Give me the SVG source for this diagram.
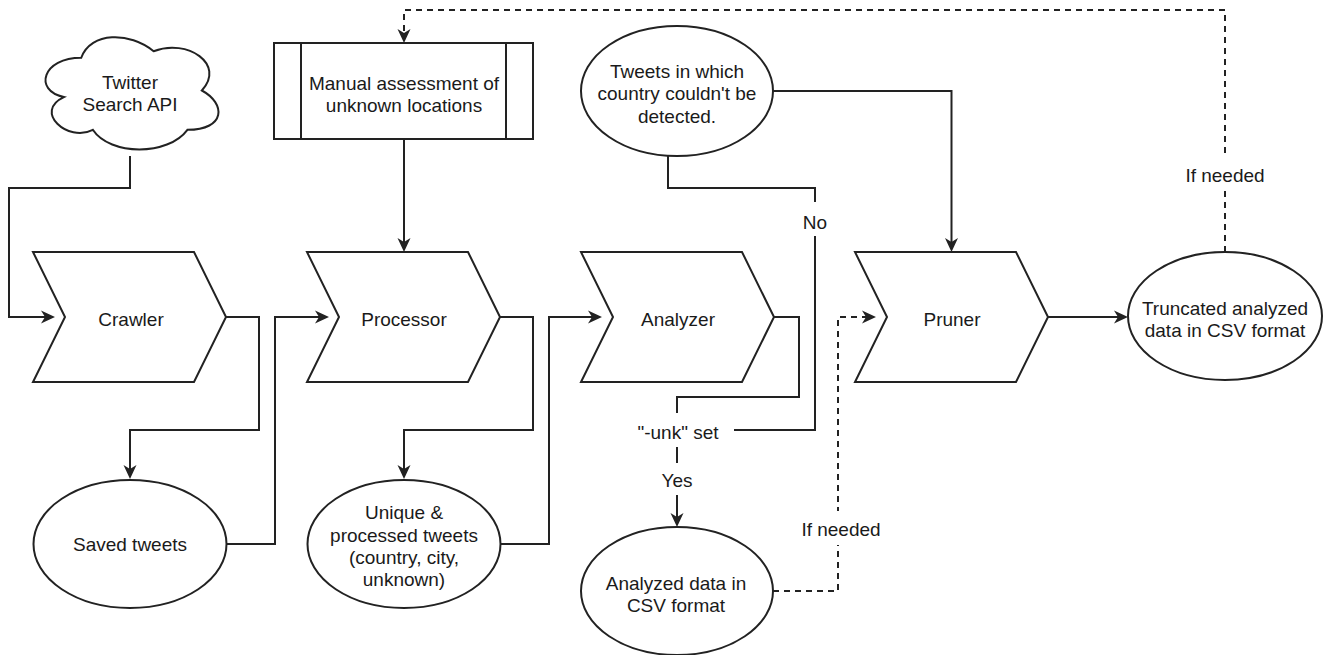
<svg xmlns="http://www.w3.org/2000/svg" width="1330" height="655" viewBox="0 0 1330 655">
<style>
.shape{fill:#fff;stroke:#222;stroke-width:2}
.edge{fill:none;stroke:#222;stroke-width:2}
.dash{stroke-dasharray:6 5}
.t{font-family:"Liberation Sans",Arial,sans-serif;font-size:19px;fill:#1a1a1a;text-anchor:middle}
.lbl{fill:#fff;stroke:none}
</style>
<defs>
<marker id="arr" markerUnits="userSpaceOnUse" markerWidth="14" markerHeight="13" refX="9" refY="6.5" orient="auto" overflow="visible">
<path d="M0,0 L14,6.5 L0,13 L4,6.5 Z" fill="#222"/>
</marker>
</defs>
<rect width="1330" height="655" fill="#fff"/>
<g id="connectors">
<path class="edge" d="M130,156 V188 H9 V317 H50" marker-end="url(#arr)"/>
<path class="edge" d="M226,317 H259 V430 H130 V474" marker-end="url(#arr)"/>
<path class="edge" d="M226.5,544 H275 V317 H324" marker-end="url(#arr)"/>
<path class="edge" d="M404,139 V247" marker-end="url(#arr)"/>
<path class="edge" d="M500,317 H533 V430 H404 V474" marker-end="url(#arr)"/>
<path class="edge" d="M500.5,544 H549 V317 H597" marker-end="url(#arr)"/>
<path class="edge" d="M774,317 H799 V397 H677 V413"/>
<path class="edge" d="M677,447 V522" marker-end="url(#arr)"/>
<path class="edge" d="M668,156 V188 H815 V430 H734"/>
<path class="edge" d="M773,91 H951.5 V247" marker-end="url(#arr)"/>
<path class="edge dash" d="M773,591 H838 V317 H871" marker-end="url(#arr)"/>
<path class="edge" d="M1048,317 H1123" marker-end="url(#arr)"/>
<path class="edge dash" d="M1225,252 V10 H404 V38" marker-end="url(#arr)"/>
<rect class="lbl" x="798" y="202" width="34" height="34"/>
<text class="t" x="815" y="229">No</text>
<rect class="lbl" x="658" y="463" width="38" height="32"/>
<text class="t" x="677" y="487">Yes</text>
<rect class="lbl" x="798" y="511" width="86" height="34"/>
<text class="t" x="841" y="536">If needed</text>
<rect class="lbl" x="1182" y="157" width="86" height="34"/>
<text class="t" x="1225" y="182">If needed</text>
</g>
<g id="twitter-api">
<path class="shape" d="M81.25,57.75 C42.65,57.75 33,90.5 63.88,97.05 C33,111.46 67.74,142.9 92.83,129.8 C110.2,156 168.1,156 187.4,129.8 C226,129.8 226,103.6 201.88,90.5 C226,64.3 187.4,38.1 153.63,51.2 C129.5,31.55 90.9,31.55 81.25,57.75 Z"/>
<text class="t" x="130" y="89">Twitter</text>
<text class="t" x="130" y="111">Search API</text>
</g>
<g id="manual-assessment">
<rect class="shape" x="274" y="43" width="259" height="96"/>
<line class="edge" x1="301" y1="43" x2="301" y2="139"/>
<line class="edge" x1="506" y1="43" x2="506" y2="139"/>
<text class="t" x="404" y="90">Manual assessment of</text>
<text class="t" x="404" y="112">unknown locations</text>
</g>
<g id="tweets-unknown">
<ellipse class="shape" cx="677" cy="91" rx="96" ry="65"/>
<text class="t" x="677" y="78">Tweets in which</text>
<text class="t" x="677" y="100">country couldn't be</text>
<text class="t" x="677" y="123">detected.</text>
</g>
<g id="crawler">
<path class="shape" d="M33,252 H194 L226,317 L194,382 H33 L65,317 Z"/>
<text class="t" x="131" y="326">Crawler</text>
</g>
<g id="processor">
<path class="shape" d="M307,252 H468 L500,317 L468,382 H307 L339,317 Z"/>
<text class="t" x="404" y="326">Processor</text>
</g>
<g id="analyzer">
<path class="shape" d="M581,252 H742 L774,317 L742,382 H581 L613,317 Z"/>
<text class="t" x="678" y="326">Analyzer</text>
</g>
<g id="pruner">
<path class="shape" d="M855,252 H1016 L1048,317 L1016,382 H855 L887,317 Z"/>
<text class="t" x="952" y="326">Pruner</text>
</g>
<g id="truncated-data">
<ellipse class="shape" cx="1225" cy="316" rx="97" ry="64"/>
<text class="t" x="1225" y="315">Truncated analyzed</text>
<text class="t" x="1225" y="337">data in CSV format</text>
</g>
<g id="saved-tweets">
<ellipse class="shape" cx="130" cy="544" rx="96.5" ry="64"/>
<text class="t" x="130" y="551">Saved tweets</text>
</g>
<g id="unique-tweets">
<ellipse class="shape" cx="404" cy="544" rx="96.5" ry="64"/>
<text class="t" x="404" y="519">Unique &amp;</text>
<text class="t" x="404" y="542">processed tweets</text>
<text class="t" x="404" y="564">(country, city,</text>
<text class="t" x="404" y="586">unknown)</text>
</g>
<g id="unk-set">
<text class="t" x="678" y="439">"-unk" set</text>
</g>
<g id="analyzed-data">
<ellipse class="shape" cx="677" cy="591" rx="96" ry="64"/>
<text class="t" x="676" y="590">Analyzed data in</text>
<text class="t" x="676" y="612">CSV format</text>
</g>
</svg>
